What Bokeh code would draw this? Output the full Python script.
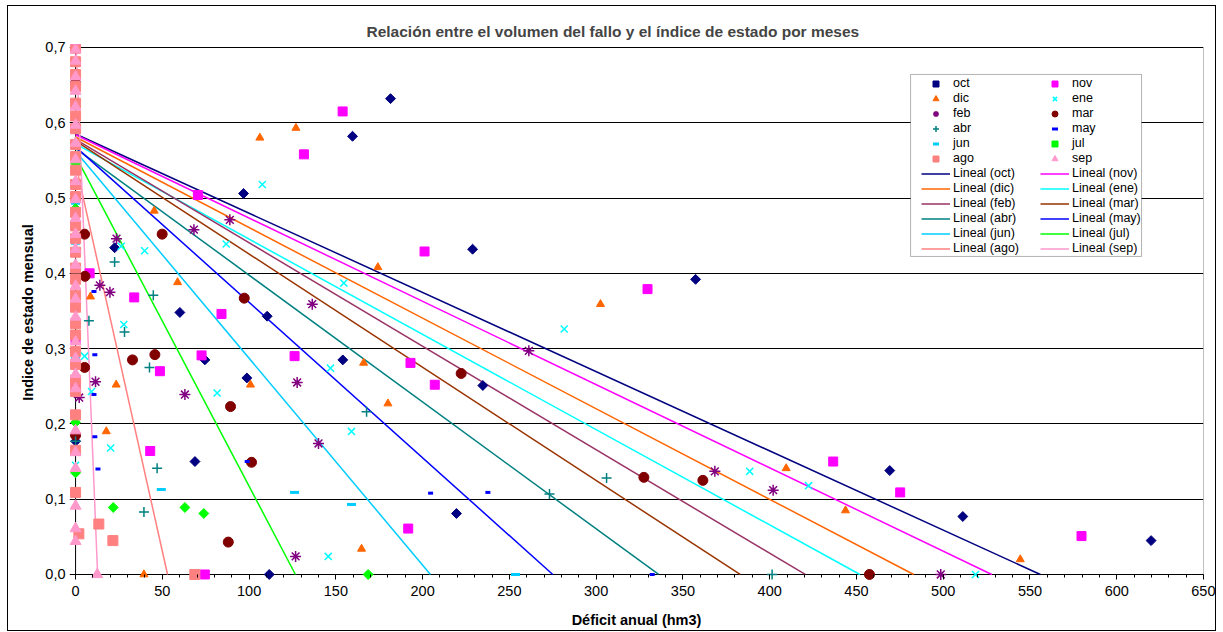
from bokeh.plotting import figure
from bokeh.models import Range1d, FixedTicker, CustomJSTickFormatter, Legend, LegendItem, BoxAnnotation
from bokeh.embed import file_html
from bokeh.resources import INLINE

# ---------------- data ----------------
months = ["oct", "nov", "dic", "ene", "feb", "mar", "abr", "may", "jun", "jul", "ago", "sep"]

oct_x = [181.5, 159.6, 96.8, 228.8, 357.3, 22.5, 60.1, 110.4, 74.5, 154.0, 98.7, 234.7, 68.8, 219.5, 111.6, 469.2, 511.3, 619.8, 0, 0, 0]
oct_y = [0.632, 0.582, 0.506, 0.432, 0.392, 0.434, 0.348, 0.343, 0.285, 0.285, 0.261, 0.251, 0.150, 0.081, 0.0, 0.138, 0.077, 0.045, 0.177, 0.595, 0.655]

nov_x = [153.9, 131.6, 70.5, 201.1, 329.6, 8.1, 33.8, 84.1, 72.6, 126.2, 193.0, 207.0, 48.6, 43.0, 191.7, 436.6, 475.2, 579.7, 74.5, 0, 0, 0]
nov_y = [0.615, 0.558, 0.504, 0.429, 0.379, 0.400, 0.368, 0.346, 0.291, 0.290, 0.281, 0.252, 0.270, 0.164, 0.061, 0.150, 0.109, 0.051, 0.0, 0.700, 0.255, 0.312]

dic_x = [106.2, 127.0, 174.2, 45.3, 58.8, 8.6, 23.4, 17.7, 100.8, 166.0, 180.0, 164.8, 39.4, 302.5, 409.5, 443.7, 544.4]
dic_y = [0.580, 0.593, 0.408, 0.483, 0.388, 0.369, 0.252, 0.190, 0.252, 0.281, 0.227, 0.034, 0.0, 0.359, 0.141, 0.085, 0.020]

ene_x = [107.6, 86.8, 154.6, 281.6, 39.8, 26.3, 27.8, 5.2, 9.2, 20.2, 81.6, 146.9, 159.0, 145.6, 388.5, 422.4, 518.6, 0, 0]
ene_y = [0.518, 0.439, 0.387, 0.326, 0.430, 0.436, 0.332, 0.290, 0.243, 0.168, 0.241, 0.274, 0.190, 0.024, 0.137, 0.118, 0.0, 0.290, 0.145]

feb_x = [88.9, 68.2, 136.4, 261.2, 23.6, 14.0, 19.8, 11.5, 2.1, 63.0, 127.7, 140.0, 126.8, 368.4, 402.0, 498.6]
feb_y = [0.471, 0.458, 0.359, 0.297, 0.446, 0.384, 0.375, 0.256, 0.235, 0.239, 0.255, 0.174, 0.024, 0.137, 0.112, 0.0]

mar_x = [49.9, 5.2, 5.4, 97.2, 32.8, 45.7, 5.2, 89.3, 101.4, 88.0, 222.2, 327.5, 361.5, 457.5, 0, 0]
mar_y = [0.452, 0.452, 0.396, 0.367, 0.285, 0.292, 0.275, 0.223, 0.149, 0.043, 0.267, 0.129, 0.125, 0.0, 0.185, 0.652]

abr_x = [22.5, 7.7, 28.2, 44.8, 42.6, 47.0, 39.4, 167.7, 273.1, 306.0, 401.4, 0, 0]
abr_y = [0.415, 0.337, 0.322, 0.371, 0.275, 0.141, 0.083, 0.216, 0.107, 0.128, 0.0, 0.177, 0.478]

may_x = [10.6, 11.1, 10.6, 11.1, 12.9, 98.9, 204.6, 237.6, 332.3, 0, 0, 0]
may_y = [0.376, 0.292, 0.239, 0.183, 0.140, 0.150, 0.108, 0.109, 0.0, 0.480, 0.430, 0.160]

jun_x = [49.4, 126.2, 159.0, 253.5, 0, 0, 0, 0, 0]
jun_y = [0.113, 0.109, 0.093, 0.0, 0.501, 0.493, 0.440, 0.370, 0.288]

jul_x = [21.7, 63.0, 73.9, 168.6, 0, 0, 0, 0, 0, 0]
jul_y = [0.089, 0.089, 0.081, 0.0, 0.135, 0.202, 0.334, 0.460, 0.486, 0.546]

ago_x = [1.9, 13.4, 21.5, 68.7] + [0] * 29
ago_y = [0.054, 0.067, 0.045, 0.0, 0.109, 0.165, 0.212, 0.243, 0.258, 0.279, 0.296, 0.318, 0.333,
         0.355, 0.371, 0.392, 0.407, 0.428, 0.446, 0.463, 0.481, 0.502, 0.518, 0.537, 0.555,
         0.571, 0.592, 0.609, 0.626, 0.648, 0.664, 0.681, 0.699]

sep_x = [12.5] + [0] * 27
sep_y = [0.0, 0.044, 0.061, 0.091, 0.141, 0.162, 0.191, 0.247, 0.266, 0.287, 0.309, 0.342, 0.366,
         0.383, 0.411, 0.432, 0.452, 0.473, 0.498, 0.522, 0.551, 0.573, 0.597, 0.621, 0.642,
         0.661, 0.682, 0.697]

# linear trend lines (Lineal): value at x=0 and x where the line reaches 0
trend_intercept = [0.585, 0.584, 0.581, 0.572, 0.578, 0.576, 0.566, 0.568, 0.562, 0.556, 0.546, 0.72]
trend_xzero = [556, 528, 483, 452, 420.5, 383, 336, 275, 204.5, 126.7, 53, 12.7]

x_ticks = [0, 50, 100, 150, 200, 250, 300, 350, 400, 450, 500, 550, 600, 650]
y_ticks = [0.0, 0.1, 0.2, 0.3, 0.4, 0.5, 0.6, 0.7]

# ---------------- styles ----------------
FONT = "Liberation Sans"
series_x = [oct_x, nov_x, dic_x, ene_x, feb_x, mar_x, abr_x, may_x, jun_x, jul_x, ago_x, sep_x]
series_y = [oct_y, nov_y, dic_y, ene_y, feb_y, mar_y, abr_y, may_y, jun_y, jul_y, ago_y, sep_y]

marker_style = {
    "oct": dict(marker="square", size=7, angle=0.7854, color="#000080"),
    "nov": dict(marker="square", size=9, color="#FF00FF"),
    "dic": dict(marker="triangle", size=8, color="#FF6600"),
    "ene": dict(marker="x", size=10, line_width=1.5, color="#00FFFF"),
    "feb": dict(marker="asterisk", size=11, line_width=1.5, color="#800080"),
    "mar": dict(marker="circle", size=10, color="#800000"),
    "abr": dict(marker="cross", size=10, line_width=1.5, color="#008080"),
    "may": dict(marker="dash", size=5, line_width=3, color="#0000FF"),
    "jun": dict(marker="dash", size=9, line_width=3, color="#00CCFF"),
    "jul": dict(marker="square", size=7, angle=0.7854, color="#00FF00"),
    "ago": dict(marker="square", size=10, color="#FF8080"),
    "sep": dict(marker="triangle", size=11, color="#FF99CC"),
}
trend_color = ["#000080", "#FF00FF", "#FF6600", "#00FFFF", "#993366", "#993300",
               "#008080", "#0000FF", "#00CCFF", "#00FF00", "#FF8080", "#FF99CC"]

p = figure(
    frame_width=1134, frame_height=536,
    min_border_left=61, min_border_right=12, min_border_top=38, min_border_bottom=50,
    x_range=Range1d(-3.5, 650), y_range=Range1d(-0.008, 0.7039),
    output_backend="svg", toolbar_location=None,
    title="Relación entre el volumen del fallo y el índice de estado por meses",
    styles={"border": "1px solid black", "margin-left": "7px", "margin-top": "5px"},
)
p.background_fill_color = "white"
p.border_fill_color = "white"
p.outline_line_color = None

p.title.text_font = FONT
p.title.text_font_size = "15.5px"
p.title.text_font_style = "bold"
p.title.align = "left"
p.title.offset = 297

# axes (lines drawn at the data origin below; the frame has a small margin so
# markers sitting on the axes stay fully visible)
p.xaxis.bounds = (x_ticks[0], x_ticks[-1])
p.yaxis.bounds = (y_ticks[0], y_ticks[-1])
p.xaxis.ticker = FixedTicker(ticks=x_ticks, minor_ticks=list(range(0, 651, 10)))
p.yaxis.ticker = FixedTicker(ticks=y_ticks)
p.yaxis.formatter = CustomJSTickFormatter(code="return tick.toFixed(1).replace('.', ',');")
for ax in (p.xaxis[0], p.yaxis[0]):
    ax.axis_line_color = None
    ax.major_tick_line_color = "black"
    ax.minor_tick_line_color = "black"
    ax.major_label_text_font = FONT
    ax.major_label_text_font_size = "14.5px"
    ax.major_label_text_color = "black"
    ax.axis_label_text_font = FONT
    ax.axis_label_text_font_size = "14.5px"
    ax.axis_label_text_font_style = "bold"
    ax.axis_label_text_color = "black"
p.xaxis.major_tick_in = 6
p.xaxis.major_tick_out = -1
p.xaxis.minor_tick_in = 6
p.xaxis.minor_tick_out = -3
p.yaxis.major_tick_line_color = None
p.yaxis.minor_tick_line_color = None
p.yaxis.major_tick_in = 0
p.yaxis.major_tick_out = 0
p.xaxis.axis_label = "Déficit anual (hm3)"
p.yaxis.axis_label = "Indice de estado mensual"
p.xaxis.major_label_standoff = 6
p.xaxis.axis_label_standoff = 13
p.yaxis.major_label_standoff = 4
p.yaxis.axis_label_standoff = 6

p.xgrid.visible = False
p.ygrid.grid_line_color = "black"
p.ygrid.grid_line_width = 1

# y axis line and right border of the plot area
p.segment(x0=x_ticks[0], y0=y_ticks[0], x1=x_ticks[0], y1=y_ticks[-1], line_color="black", line_width=1)
p.segment(x0=x_ticks[-1], y0=y_ticks[0], x1=x_ticks[-1], y1=y_ticks[-1], line_color="#808080", line_width=1)

# trend lines
trend_renderers = []
for i, m in enumerate(months):
    r = p.line([0, trend_xzero[i]], [trend_intercept[i], 0], line_color=trend_color[i], line_width=1.5)
    trend_renderers.append(r)

# markers
marker_renderers = []
for i, m in enumerate(months):
    st = dict(marker_style[m])
    color = st.pop("color")
    r = p.scatter(series_x[i], series_y[i], fill_color=color, line_color=color, **st)
    marker_renderers.append(r)

# legend box + two legend columns
box = BoxAnnotation(left=481.2, right=614.3, top=0.6641, bottom=0.4224,
                    fill_color="white", fill_alpha=1.0, line_color="black", line_width=1)
p.add_layout(box)

col1_items, col2_items = [], []
for i, m in enumerate(months):
    it = LegendItem(label=m, renderers=[marker_renderers[i]])
    (col1_items if i % 2 == 0 else col2_items).append(it)
for i, m in enumerate(months):
    it = LegendItem(label="Lineal (%s)" % m, renderers=[trend_renderers[i]])
    (col1_items if i % 2 == 0 else col2_items).append(it)

for items, loc in ((col1_items, (852, 324.5)), (col2_items, (971, 324.5))):
    lg = Legend(items=items, location=loc, padding=0, margin=0, spacing=0,
                glyph_width=29, glyph_height=15, label_height=15, label_standoff=3,
                label_text_font=FONT, label_text_font_size="12.5px", label_text_color="black",
                border_line_color=None, background_fill_alpha=0)
    p.add_layout(lg)

open("out.html", "w").write(file_html(p, INLINE))
